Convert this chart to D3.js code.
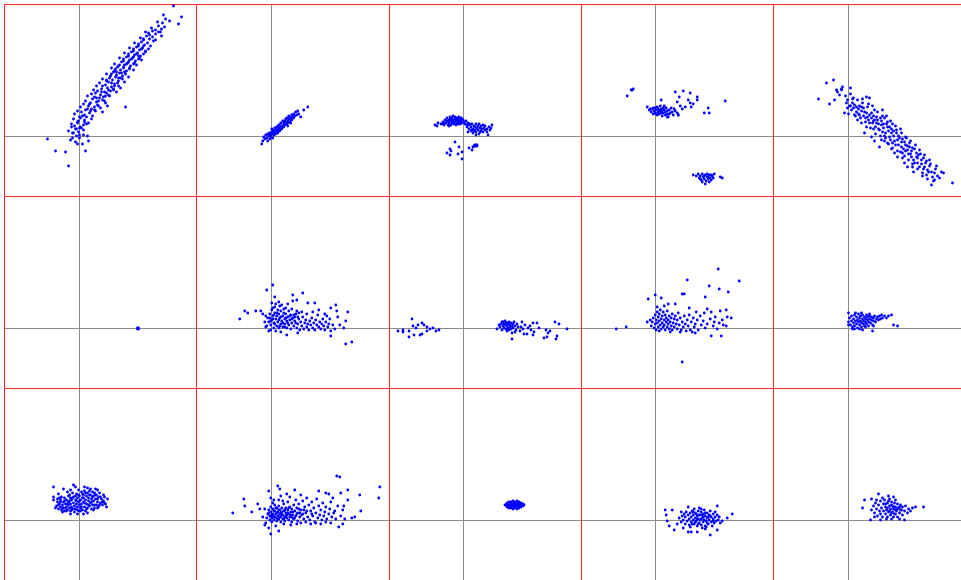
<!DOCTYPE html>
<meta charset="utf-8">
<style>
body { margin: 0; background: #fff; }
.frame line { stroke: #ff2020; stroke-width: 1; shape-rendering: crispEdges; }
.zero line { stroke: #8a8a8a; stroke-width: 1; shape-rendering: crispEdges; }
.dot { fill: #0000ff; }
</style>
<svg width="961" height="580"></svg>
<script src="https://d3js.org/d3.v7.min.js"></script>
<script>

// scatter values for each cell (x, y relative to the cell's zero lines)
var p1 = [[-31,-3],[-23,-15],[-13,-16],[-10,-30],[7,-15],[-1,-8],[4,-8],[-6,-2],[-8,-4],[-3,-6],[-5,3],[9,0],[10,-5],[1,-2],[-2,0],[5,1],
  [-10,5],[-6,3],[-3,7],[0,4],[3,8],[-7,9],[1,1],[5,6],
  [-7,12],[-4,10],[-1,13],[2,9],[5,11],[-2,7],[8,12],[0,15],
  [-5,17],[-1,14],[2,18],[6,16],[10,13],[13,17],[4,20],[8,19],
  [-4,22],[1,19],[3,24],[6,21],[11,23],[14,20],[16,26],[9,27],[-1,25],
  [2,29],[7,26],[10,30],[13,27],[17,25],[19,31],[22,28],[12,33],[5,32],[24,24],
  [7,35],[11,32],[14,37],[18,34],[20,30],[24,36],[27,33],[16,39],[21,38],[47,29],[29,30],
  [9,40],[13,42],[18,38],[22,41],[25,39],[28,43],[31,40],[19,45],[26,35],
  [15,46],[17,43],[23,47],[26,44],[29,48],[32,45],[35,47],[24,50],[30,41],[38,44],
  [18,50],[21,53],[27,51],[30,54],[33,49],[36,52],[40,50],[28,56],[35,46],[42,48],
  [24,57],[28,55],[31,58],[34,56],[37,59],[40,55],[44,57],[33,62],[39,53],[46,54],
  [28,62],[32,60],[35,64],[38,61],[41,63],[44,60],[47,62],[37,67],[42,58],[50,59],
  [33,68],[36,65],[39,69],[42,66],[45,68],[48,65],[51,67],[41,71],[46,64],[55,66],
  [36,72],[40,70],[43,74],[46,71],[49,73],[52,70],[55,72],[45,77],[51,68],[58,71],
  [41,78],[45,75],[48,79],[51,76],[54,78],[57,75],[60,77],[50,82],[56,73],[63,76],
  [46,83],[50,80],[53,84],[56,81],[59,83],[62,80],[65,82],[55,87],[61,78],[67,84],
  [51,88],[55,85],[58,89],[61,86],[64,88],[67,85],[70,87],[60,92],
  [56,93],[60,90],[63,94],[66,91],[69,93],[72,90],[65,97],[75,95],
  [62,98],[65,96],[68,100],[71,97],[74,99],[77,96],[70,103],
  [67,104],[71,101],[74,105],[77,102],[80,104],[83,100],
  [73,108],[77,106],[80,110],[83,107],[86,109],[79,114],
  [84,113],[87,117],[85,121],[95,130],[103,119],[100,112],[91,115],[82,104],
  [20,35],[23,44],[33,53],[38,64],[43,63],[48,72],[53,77],[58,82],[63,87],[30,46],[40,58],[45,69],[50,74],[55,79],[27,40],[36,50],[60,80],[65,90],[12,25],[16,29],[6,14],[1,8]];

var p2 = [[-9,-8],[-8,-5],[-6,-3],[-7,-1],[-4,-2],[-5,1],[-3,2],[-2,0],[-1,3],[0,1],[1,4],[2,2],[3,5],[2,6],[4,3],[5,6],[6,4],[4,8],[7,7],[8,5],[9,8],[6,9],[10,7],[11,10],[8,11],[12,9],[13,12],[10,13],[14,11],[15,14],[12,15],[16,12],[17,15],[18,17],[15,17],[19,14],[20,18],[21,16],[18,20],[22,19],[24,20],[23,22],[26,21],[25,24],[28,22],[27,25],[30,19],[33,26],[37,29],[1,7],[3,1],[-3,-5],[5,2],[7,3],[9,5],[11,7],[13,9],[14,15],[16,18],[19,19],[20,13],[17,10],[21,21],[-1,-3],[0,-1],[2,-2],
  [3,3],[6,6],[10,10],[13,14],[17,13],[20,16],[23,18],[7,9],[-2,2]];

var p3 = [[-28,11],[-25,13],[-26,10],[-22,12],[-20,14],[-19,11],[-18,16],[-17,13],[-16,18],[-15,15],[-15,11],[-14,13],[-13,17],[-13,19],[-12,15],[-12,11],[-11,13],[-11,18],[-10,16],[-10,20],[-9,12],[-9,14],[-8,17],[-8,19],[-7,15],[-7,11],[-6,13],[-6,18],[-5,16],[-5,12],[-4,14],[-4,19],[-3,17],[-3,12],[-2,15],[-1,13],[-1,17],[0,16],[1,14],[2,12],[3,15],[5,13],[-18,13],[-16,15],[-14,16],[-12,17],[-10,13],[-8,14],[-6,16],[-4,16],[-2,13],[-20,12],[-14,10],[-2,18],[4,11],[7,12],
  [4,9],[6,7],[6,11],[8,5],[8,9],[9,12],[10,7],[10,3],[11,10],[12,6],[12,9],[13,12],[13,4],[14,8],[15,10],[15,6],[16,2],[16,12],[17,8],[18,5],[18,10],[19,7],[20,11],[20,4],[21,8],[22,6],[22,10],[24,7],[24,4],[26,9],[27,6],[28,8],[29,11],[25,1],[13,1],[5,4],[11,5],[17,4],[9,6],
  [12,-9],[13,-10],[14,-9],[13,-9],[12,-10],[14,-10],[11,-10],
  [-8,-6],[-4,-11],[-13,-13],[-16,-17],[-13,-19],[-12,-15],[-5,-18],[-1,-16],[-1,-23],[6,-12],[9,-14],[10,-11]];

var p4 = [[-8,29],[-6,26],[-4,24],[-3,27],[-2,22],[-1,25],[0,28],[0,23],[1,26],[2,21],[2,29],[3,24],[3,27],[4,22],[5,25],[5,30],[6,23],[6,27],[7,20],[7,25],[8,28],[8,23],[9,26],[10,21],[10,24],[11,28],[12,22],[12,25],[13,19],[14,26],[15,23],[16,28],[17,24],[18,21],[19,27],[20,25],[22,23],[23,21],[12,19],[-2,28],[4,26],[9,30],[1,22],[14,22],[6,36],[-5,27],
  [20,44],[28,45],[35,43],[24,39],[33,36],[42,39],[42,36],[35,33],[38,32],[36,29],[22,34],[53,28],[49,23],[54,23],[70,35],[23,21],[27,27],[30,29],[25,30],
  [-24,46],[-23,46],[-22,47],[-28,40],
  [38,-39],[41,-40],[43,-38],[44,-42],[45,-40],[46,-44],[47,-38],[48,-41],[49,-43],[50,-39],[51,-45],[52,-41],[53,-43],[54,-39],[55,-42],[56,-44],[57,-40],[58,-42],[59,-38],[47,-46],[50,-48],[54,-46],[45,-43],[52,-38],[65,-41],[67,-42],[49,-40],[53,-41],[56,-39]];

var p5 = [[-29,37],[-21,53],[-14,56],[-18,32],[-13,36],[-8,41],[3,48],[-3,23],[105,-47],[87,-44],[84,-49],[94,-36],[-11,46],[-10,44],[-6,47],[-5,49],[-6,46],[5,37],[19,39],[22,38],
  [0,36],[5,33],[9,29],[4,26],[14,29],[17,24],[12,21],[20,19],[24,23],[27,26],[30,16],[25,13],[34,11],[37,18],[40,9],[35,4],[44,3],[49,6],[50,-4],[45,-7],[54,-11],[57,-6],[60,-14],[55,-17],[64,-21],[69,-17],[70,-27],[65,-31],[74,-24],[77,-31],[80,-34],[75,-37],[84,-36],[57,-27],[50,-21],[47,-17],[34,-4],[32,-11],[17,3],[24,-1],[19,9],[14,13],[10,16],[40,-7],[54,3],
  [2,30],[6,28],[9,24],[11,27],[14,25],[16,20],[19,23],[21,16],[22,13],[24,18],[26,15],[28,9],[29,19],[31,12],[32,6],[34,15],[36,8],[38,3],[39,12],[41,5],[42,-1],[44,7],[46,0],[47,-5],[49,3],[51,-9],[52,-2],[54,-6],[56,-13],[58,-9],[59,-2],[61,-18],[62,-11],[64,-15],[66,-24],[67,-13],[69,-21],[71,-19],[72,-31],[74,-28],[76,-22],[78,-27],[79,-39],[82,-30],[85,-41],[88,-33],[20,29],[15,33],[7,21],[1,22],[44,-13],[38,-2],[28,2],[60,-31],[66,-36],[90,-40],[35,20],[45,12],[27,-5],[62,-7],
  [-2,40],[0,28],[3,42],[6,38],[8,20],[10,36],[13,18],[15,37],[18,14],[21,32],[23,8],[25,30],[27,16],[30,24],[33,0],[35,26],[37,-5],[39,20],[41,-8],[43,15],[45,-12],[48,10],[50,-15],[53,7],[55,-22],[58,-1],[61,-24],[63,-5],[65,-28],[68,-9],[70,-33],[72,-14],[75,-40],[77,-19],[80,-43],[82,-24],[86,-45],[89,-30],[92,-42],[96,-37],[-1,33],[3,30],[7,31],[11,22],[16,28],[18,18],[22,21],[26,20],[29,13],[31,7],[33,18],[36,12],[40,14],[42,9],[43,-4],[46,5],[48,-9],[51,0],[53,-16],[55,-3],[57,-20],[60,-10],[63,-18],[65,-12],[67,-27],[70,-22],[73,-18],[76,-33],[79,-25],[81,-36],[83,-28],[87,-37],[12,30],[37,0],[26,7],[58,-15]];

var p6 = [[59,0],[60,0],[59,-1],[60,-1]];

var p7 = [[2,43],[-4,38],[4,31],[22,33],[26,28],[32,35],[22,27],[8,26],[37,25],[44,25],[60,20],[65,23],[77,16],[66,17],[67,11],[75,7],[69,3],[73,0],[60,-3],[60,-8],[75,-16],[81,-14],[27,-5],[16,-7],[-31,9],[-26,17],[-23,15],[-15,17],[-10,17],[-8,14],
  [-4,2],[-2,6],[-3,10],[-1,14],[0,3],[1,8],[1,18],[2,12],[3,0],[3,5],[4,15],[4,21],[5,9],[6,2],[6,12],[7,18],[7,6],[8,0],[8,14],[9,10],[9,22],[10,4],[10,17],[11,7],[12,12],[12,1],[13,19],[14,9],[14,4],[15,14],[16,0],[16,7],[17,11],[18,3],[18,17],[19,8],[20,13],[20,-1],[21,5],[22,10],[23,2],[24,7],[25,14],[26,0],[27,4],[28,9],[29,-2],[30,6],[31,2],[32,11],[33,-1],[34,5],[35,8],[36,1],[37,4],[38,-2],[39,7],[40,3],[41,10],[42,0],[43,5],[44,-2],[45,8],[46,3],[47,13],[48,1],[49,6],[50,-1],[51,4],[52,9],[53,2],[54,-2],[55,6],[56,12],[57,1],[58,4],[59,9],[62,3],[64,-1],[-6,6],[-5,12],[0,-2],[2,20],[5,24],[11,23],[15,20],[21,19],[26,17],[31,16],[36,14],[42,16],[48,18],[54,14],[-2,-3],[5,-3],[10,-4],[28,15],[17,24],[1,25],[-5,1],
  [0,7],[2,9],[4,4],[6,15],[8,8],[10,11],[12,5],[13,15],[15,10],[17,5],[19,12],[21,9],[23,13],[25,5],[-1,10],[3,13],[9,2],[14,1],[24,11],[27,11]];

var p8 = [[-51,9],[-65,-3],[-60,-2],[-60,-4],[-54,-3],[-54,-9],[-50,2],[-45,3],[-49,-7],[-43,-7],[-41,5],[-39,3],[-36,1],[-36,-3],[-33,-1],[-30,0],[-27,-3],[-24,-2],[-41,-6],[-47,0],
  [34,-1],[37,1],[38,4],[39,-2],[40,2],[40,6],[41,0],[42,3],[42,7],[43,-1],[44,2],[44,5],[45,0],[45,4],[46,6],[46,-2],[47,3],[47,1],[48,5],[48,-1],[49,2],[50,4],[50,0],[51,6],[52,2],[53,-2],[54,4],[55,1],[41,4],[43,5],[39,6],[36,3],[44,-3],[49,-5],[52,-4],[57,-3],
  [59,6],[70,5],[74,5],[76,0],[65,0],[61,-6],[64,-6],[71,-4],[70,-7],[81,-10],[84,-9],[85,-5],[83,-2],[87,-3],[92,6],[96,4],[94,-8],[93,-11],[104,-1],[49,-11],[58,1],[62,3],[67,2],[68,-2],[60,-1]];

var p9 = [[63,59],[32,48],[84,47],[54,42],[64,39],[73,36],[27,34],[29,34],[0,33],[-7,29],[6,30],[50,31],[13,24],[20,24],[34,20],[52,19],[56,16],[65,17],[71,18],[41,16],[49,15],[72,11],[76,10],[67,8],[59,6],[71,2],[56,-8],[66,-8],[37,-4],[40,-5],[-39,-1],[-29,1],[-8,6],[27,-34],
  [-4,2],[-3,6],[-2,10],[-1,0],[0,4],[0,13],[1,8],[1,-2],[2,16],[2,5],[3,11],[3,1],[4,7],[4,14],[5,3],[5,18],[6,9],[6,-1],[7,12],[7,5],[8,1],[8,16],[9,8],[9,3],[10,13],[10,-2],[11,6],[11,10],[12,1],[12,17],[13,8],[13,4],[14,12],[14,-1],[15,6],[16,10],[16,2],[17,14],[17,-2],[18,5],[19,9],[19,1],[20,12],[21,4],[22,-1],[22,8],[23,15],[24,3],[25,10],[26,-2],[27,6],[28,1],[29,12],[30,4],[31,-3],[32,8],[33,2],[34,13],[35,-2],[36,6],[38,10],[39,1],[40,4],[42,8],[43,-2],[45,12],[46,3],[48,7],[50,0],[52,4],[55,9],[58,2],[60,11],[62,-1],[64,5],[68,3],[2,21],[9,22],[-5,8],[4,-3],[15,-4],[25,-4]];

var p10 = [[1,6],[2,10],[3,3],[4,12],[4,7],[5,1],[6,9],[6,5],[7,13],[7,2],[8,7],[9,11],[9,4],[10,8],[10,0],[11,14],[11,6],[12,3],[12,10],[13,7],[13,12],[14,5],[14,1],[15,9],[15,13],[16,4],[16,7],[17,11],[17,2],[18,6],[18,9],[19,13],[19,4],[20,8],[20,11],[21,6],[21,2],[22,9],[22,12],[23,5],[24,8],[24,11],[25,3],[26,7],[26,10],[27,12],[28,6],[29,9],[30,11],[31,8],[32,12],[33,9],[34,13],[35,10],[37,12],[8,15],[14,15],[22,14],[5,-1],[12,-1],[18,1],[26,2],
  [46,3],[50,2],[44,13],[39,10],[1,15],[25,-3],[15,-2],[7,-1],[1,3],[41,12]];

var p11 = [[-25,33],[-15,31],[-5,35],[-3,33],[9,32],[17,31],[25,25],[29,21],[28,13],[-23,12],[-8,6],[-25,23],[-25,20],
  [-22,14],[-21,18],[-20,11],[-19,16],[-18,13],[-18,20],[-17,10],[-16,15],[-15,18],[-15,12],[-14,9],[-13,16],[-12,13],[-12,20],[-11,10],[-10,15],[-10,18],[-9,12],[-8,9],[-8,16],[-7,20],[-7,13],[-6,11],[-5,17],[-5,23],[-4,14],[-4,8],[-3,20],[-3,11],[-2,16],[-2,26],[-1,13],[-1,22],[0,9],[0,18],[1,15],[1,24],[2,12],[2,20],[3,28],[3,16],[4,10],[4,22],[5,18],[5,25],[6,13],[6,29],[7,20],[7,9],[8,16],[8,24],[9,12],[9,27],[10,19],[10,22],[11,14],[11,29],[12,17],[12,25],[13,11],[13,21],[14,28],[14,15],[15,19],[15,24],[16,12],[16,27],[17,21],[18,15],[18,25],[19,18],[20,23],[20,13],[21,27],[22,17],[23,21],[24,15],[25,19],[26,23],[27,16],[-6,27],[-10,24],[-14,22],[-19,22],[-16,8],[-1,6],[5,6],[9,7],[-20,26],[-11,28],[0,30],[6,33],[12,31],[19,30],[-8,30],
  [-20,15],[-18,18],[-16,12],[-14,19],[-12,9],[-11,16],[-9,19],[-7,10],[-6,22],[-4,11],[-3,24],[-1,10],[0,25],[1,19],[3,13],[4,26],[6,17],[7,27],[8,11],[10,15],[11,25],[13,18],[14,23],[16,15],[17,25],[19,21],[21,15],[22,23],[24,18],[-21,21],[-17,23],[-13,12],[-9,25],[2,9],[15,10],[19,12],[26,17],[5,22],[-2,19],[-8,22]];

var p12 = [[66,44],[69,43],[109,33],[108,22],[89,25],[77,30],[90,9],[84,3],[81,2],[68,-7],[72,-4],[-38,7],[-27,21],[-26,14],[-19,8],[-13,16],[-11,11],[-2,29],[7,34],[9,31],[0,-14],[-2,-8],[-6,-5],[8,-11],[48,29],[55,27],[58,26],[70,27],[24,30],[77,20],[73,14],[60,18],[63,7],
  [-4,2],[-3,6],[-2,10],[-1,0],[-1,4],[0,8],[0,13],[1,2],[1,-2],[2,6],[2,11],[3,0],[3,4],[4,9],[4,15],[5,2],[5,6],[6,12],[6,-1],[7,4],[7,8],[8,1],[8,14],[9,6],[9,10],[10,-2],[10,3],[11,8],[11,12],[12,1],[12,5],[13,16],[13,9],[14,3],[14,-1],[15,7],[15,12],[16,2],[16,5],[17,10],[17,18],[18,0],[18,6],[19,13],[20,3],[20,8],[21,11],[21,-2],[22,5],[23,15],[23,1],[24,9],[25,4],[25,20],[26,12],[27,-1],[27,7],[28,16],[29,3],[30,10],[31,5],[32,19],[33,1],[34,13],[35,7],[36,22],[37,3],[38,15],[39,0],[40,9],[41,18],[42,4],[43,12],[44,-2],[45,7],[46,21],[47,2],[48,14],[49,5],[50,10],[51,0],[52,17],[53,4],[54,8],[55,13],[56,1],[58,6],[59,11],[61,3],[62,22],[64,9],[65,1],[67,14],[70,4],[72,10],[74,1],[3,20],[10,24],[16,26],[-5,-3],[5,-6],[13,-4],[20,-5],[30,-3],[40,-4],[50,-4],[2,17],[8,20],[19,23],[30,25],[12,19],[-6,11],[-8,3],[0,22],[26,-4],[35,-2],[45,-3],[55,-2],[60,-3],
  [1,5],[3,9],[5,12],[7,1],[9,3],[11,5],[13,1],[15,4],[17,7],[19,3],[22,8],[24,2],[26,6],[28,11],[32,6],[36,9],[4,3],[6,7],[8,10],[14,10],[18,12],[22,2],[2,3],[0,4],[-2,7],[10,7],[20,5],[29,7],[33,10],[41,6]];

var p13 = [[43,15],[44,13],[44,17],[45,15],[46,12],[46,18],[47,14],[47,16],[48,12],[48,18],[49,14],[49,16],[50,11],[50,19],[51,13],[51,17],[52,15],[52,12],[52,18],[53,14],[53,16],[54,11],[54,19],[55,13],[55,17],[56,15],[56,12],[56,18],[57,14],[57,16],[58,13],[58,17],[59,15],[60,14],[60,16],[61,15],[42,15],[45,13],[50,15],[54,15],[48,15]];

var p14 = [[10,10],[11,5],[12,-1],[62,14],[77,6],[72,2],[55,-15],[33,-12],[36,-12],[42,-12],[19,-10],[14,-6],[17,10],[33,13],[67,-1],[62,-10],[22,-4],[26,8],[60,8],[28,-8],[50,-9],[46,11],
  [24,2],[26,-2],[27,4],[28,0],[29,6],[30,-4],[30,3],[31,8],[32,-1],[33,5],[34,1],[34,-5],[35,7],[36,3],[36,-2],[37,9],[38,0],[38,5],[39,-4],[40,2],[40,7],[41,-1],[42,4],[42,-6],[43,9],[43,1],[44,-3],[45,5],[45,0],[46,8],[46,-5],[47,2],[48,-2],[48,6],[49,0],[49,10],[50,4],[50,-6],[51,-1],[52,7],[52,2],[53,-4],[54,5],[54,0],[55,9],[56,-2],[56,3],[57,-6],[58,6],[58,1],[59,-3],[60,3],[61,-1],[62,5],[63,0],[64,3],[65,-3],[39,11],[44,12],[51,-7],[47,-8],[35,-7],[41,6],[53,3],[37,-4],
  [40,-2],[42,1],[44,5],[46,1],[48,3],[50,7],[52,-3],[47,5],[43,-4],[38,8],[55,4],[58,-1]];

var p15 = [[31,26],[17,20],[15,12],[24,21],[23,0],[33,0],[57,0],[76,13],[68,13],[46,23],
  [24,10],[26,14],[27,7],[28,17],[29,11],[30,4],[31,15],[32,9],[33,19],[33,6],[34,12],[35,3],[36,16],[36,9],[37,20],[38,6],[38,13],[39,10],[40,17],[40,3],[41,8],[42,14],[42,21],[43,5],[43,11],[44,18],[45,8],[45,14],[46,3],[46,11],[47,17],[48,6],[48,13],[49,9],[50,16],[50,3],[51,12],[52,7],[53,15],[54,10],[55,5],[55,13],[57,9],[58,14],[60,7],[61,11],[63,9],[65,12],[35,22],[41,24],[48,20],[39,1],[44,1],[52,1],[29,20],[27,3],
  [40,12],[42,9],[44,15],[46,13],[48,10],[50,11],[52,13],[44,7],[38,16],[41,19],[47,6],[53,10]];

var panels = [p1, p2, p3, p4, p5, p6, p7, p8, p9, p10, p11, p12, p13, p14, p15];

var svg = d3.select("svg"),
    width = +svg.attr("width"),
    height = +svg.attr("height"),
    cols = 5, rows = 3,
    padLeft = 4, padTop = 4,
    cellW = 192.25, cellH = 192;

var zero = svg.append("g").attr("class", "zero"),
    frame = svg.append("g").attr("class", "frame"),
    dots = svg.append("g");

panels.forEach(function(data, i) {
  var c = i % cols, r = Math.floor(i / cols),
      x0 = padLeft + c * cellW, y0 = padTop + r * cellH;

  var x = d3.scaleLinear().domain([-74.5, 117.75]).range([x0, x0 + cellW]),
      y = d3.scaleLinear().domain([132, -60]).range([y0, y0 + cellH]);

  if (r == 0) {
    zero.append("line")
        .attr("x1", Math.round(x(0)) + 0.5).attr("x2", Math.round(x(0)) + 0.5)
        .attr("y1", padTop).attr("y2", height);
  }
  if (c == 0) {
    zero.append("line")
        .attr("x1", padLeft).attr("x2", width)
        .attr("y1", Math.round(y(0)) + 0.5).attr("y2", Math.round(y(0)) + 0.5);
  }

  dots.selectAll(null)
    .data(data)
    .enter().append("circle")
      .attr("class", "dot")
      .attr("cx", function(d) { return x(d[0]); })
      .attr("cy", function(d) { return y(d[1]); })
      .attr("r", 1.4);
});

// red cell borders
d3.range(cols).forEach(function(c) {
  var xx = Math.round(padLeft + c * cellW) + 0.5;
  frame.append("line").attr("x1", xx).attr("x2", xx).attr("y1", padTop).attr("y2", height);
});
d3.range(rows).forEach(function(r) {
  var yy = Math.round(padTop + r * cellH) + 0.5;
  frame.append("line").attr("x1", padLeft).attr("x2", width).attr("y1", yy).attr("y2", yy);
});

</script>
